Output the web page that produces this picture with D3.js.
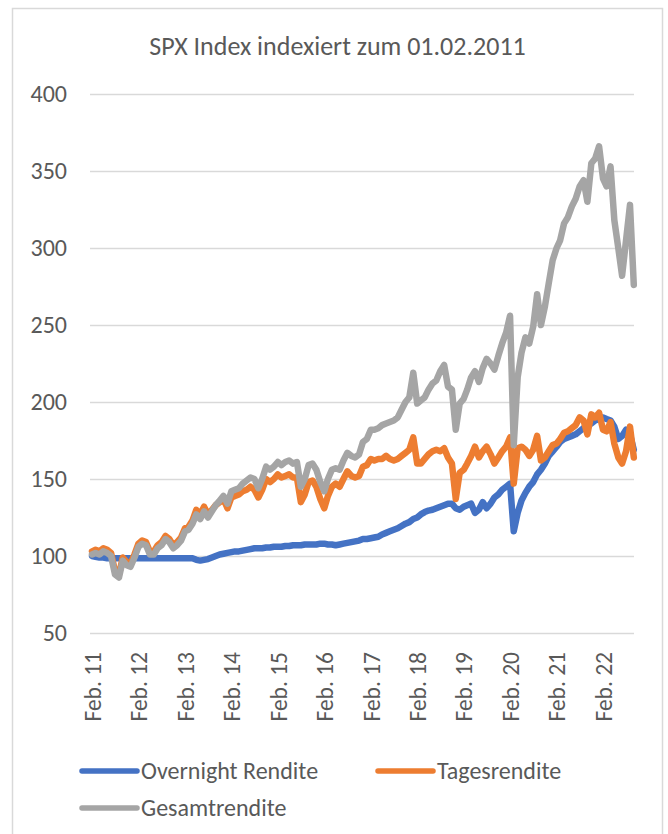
<!DOCTYPE html>
<html>
<head>
<meta charset="utf-8">
<script src="https://cdn.jsdelivr.net/npm/d3@7"></script>
<style>
  body { margin: 0; background: #fff; }
  svg { display: block; font-family: Carlito, Calibri, Lato, sans-serif; }
</style>
</head>
<body>
<svg id="chart" width="668" height="834"></svg>
<script>
var TITLE = "SPX Index indexiert zum 01.02.2011";

// monthly points, Feb 2011 .. Oct 2022
var months = d3.timeMonth.range(new Date(2011, 1, 1), new Date(2022, 10, 1));

var yTicks = [50, 100, 150, 200, 250, 300, 350, 400];
var xTickYears = [2011, 2012, 2013, 2014, 2015, 2016, 2017, 2018, 2019, 2020, 2021, 2022];

var overnight = [
  100, 99.5, 99, 99, 98.5, 98.5, 98.5, 98.5, 98.5, 98.5,
  98.5, 98.5, 98.5, 98.5, 98.5, 98.5, 98.5, 98.5, 98.5, 98.5,
  98.5, 98.5, 98.5, 98.5, 98.5, 98.5, 98.5, 97.5, 97, 97.5,
  98, 99, 100, 101, 101.5, 102, 102.5, 103, 103, 103.5,
  104, 104.5, 105, 105, 105, 105.5, 105.5, 106, 106, 106,
  106.5, 106.5, 107, 107, 107, 107.5, 107.5, 107.5, 107.5, 108,
  108, 107.5, 107.5, 107, 107.5, 108, 108.5, 109, 109.5, 110,
  111, 111, 111.5, 112, 112.5, 114, 115, 116, 117, 118,
  119.5, 121, 122, 124, 125, 127, 128.5, 129.5, 130, 131,
  132, 133, 134, 134, 131, 130, 132, 133, 134, 128,
  130, 135, 131, 134, 138, 140, 143, 145, 147, 116,
  128, 136, 141, 145, 148, 153, 156, 160, 165, 168,
  171, 174, 176, 177, 178, 179, 181, 183, 185, 186,
  188, 189, 190, 189, 188, 184, 176, 178, 182, 179, 169
];

var tages = [
  103, 104, 103, 105, 104, 102, 90, 88, 99, 96,
  95, 101, 108, 110, 109, 103, 103, 107, 109, 113,
  111, 107, 109, 112, 118, 119, 123, 130, 127, 132,
  127, 130, 133, 135, 137, 131, 138, 139, 140, 142,
  143, 145, 143, 138, 143, 150, 148, 150, 153, 151,
  152, 153, 151, 151, 135, 140, 148, 149, 145, 137,
  131, 139, 145, 147, 145, 150, 155, 152, 151, 152,
  158, 159, 163, 162, 163, 163, 165, 163, 162, 163,
  165, 167, 169, 177, 160, 160, 163, 166, 168, 169,
  168, 170, 164, 160, 137, 154, 156, 160, 165, 171,
  164, 168, 171, 166, 160, 164, 168, 171, 177, 147,
  170, 171, 169, 165, 169, 178, 162, 164, 168, 172,
  173, 176, 180, 181, 183, 185, 190, 188, 179, 192,
  190, 193, 182, 181, 187, 173, 164, 160, 168, 184, 164
];

var gesamt = [
  101, 102, 101, 103, 102, 100, 88, 86, 97, 94,
  93, 99, 106, 108, 107, 101, 101, 105, 107, 111,
  109, 105, 107, 110, 116, 117, 121, 127, 124, 129,
  125, 129, 133, 136, 139, 134, 142, 143, 144, 147,
  149, 151, 150, 144, 150, 158, 156, 158, 161, 159,
  161, 162, 160, 161, 145, 150, 159, 160, 156, 148,
  142, 150, 156, 157, 156, 162, 167, 165, 164, 166,
  174, 176, 182, 182, 183, 185, 186, 187, 188, 190,
  195, 200, 203, 219, 199, 201, 203, 208, 212, 214,
  220, 224, 210, 208, 182, 199, 202, 208, 216, 220,
  213, 222, 228, 225, 221, 230, 238, 245, 256, 172,
  216, 232, 242, 238, 249, 270, 250, 262, 277, 292,
  300, 305, 316, 320, 327, 332, 340, 344, 330, 355,
  358, 366, 345, 340, 353, 318, 300, 282, 305, 328, 276
];

var series = [
  {name: "Overnight Rendite", color: "#4472C4", values: overnight},
  {name: "Tagesrendite", color: "#ED7D31", values: tages},
  {name: "Gesamtrendite", color: "#A5A5A5", values: gesamt}
];

var svg = d3.select("#chart"),
    textColor = "#595959",
    gridColor = "#D9D9D9",
    fontFamily = "Carlito, Calibri, Lato, sans-serif",
    plot = {left: 90, right: 634, top: 94, bottom: 633};

// chart frame
svg.append("rect")
    .attr("x", 12.5).attr("y", 8.5)
    .attr("width", 650).attr("height", 840)
    .attr("fill", "#fff")
    .attr("stroke", gridColor)
    .attr("stroke-width", 1.5);

svg.append("text")
    .attr("x", 337.5).attr("y", 55)
    .attr("text-anchor", "middle")
    .attr("font-size", 26)
    .attr("fill", textColor)
    .text(TITLE);

var x = d3.scaleTime()
    .domain([months[0], months[months.length - 1]])
    .range([92, 633.8]);

var y = d3.scaleLinear()
    .domain([50, 400])
    .range([plot.bottom, plot.top]);

var yAxis = svg.append("g")
    .attr("transform", "translate(" + plot.left + ",0)")
    .call(d3.axisLeft(y)
      .tickValues(yTicks)
      .tickSize(-(plot.right - plot.left))
      .tickPadding(23));
yAxis.select(".domain").remove();
yAxis.selectAll("line").attr("stroke", gridColor).attr("stroke-width", 1.5);
yAxis.selectAll("text")
    .attr("fill", textColor)
    .attr("font-size", 24)
    .attr("font-family", fontFamily);

var xAxis = svg.append("g")
    .attr("transform", "translate(0," + plot.bottom + ")")
    .call(d3.axisBottom(x)
      .tickValues(xTickYears.map(function(yr) { return new Date(yr, 1, 1); }))
      .tickFormat(function(d) { return "Feb. " + d3.timeFormat("%y")(d); })
      .tickSize(0));
xAxis.select(".domain").remove();
xAxis.selectAll("text")
    .attr("fill", textColor)
    .attr("font-size", 23.5)
    .attr("font-family", fontFamily)
    .attr("transform", "rotate(-90)")
    .attr("text-anchor", "end")
    .attr("x", -19)
    .attr("y", 0)
    .attr("dy", "0.35em");

var line = d3.line()
    .x(function(d, i) { return x(months[i]); })
    .y(function(d) { return y(d); });

svg.append("g")
  .selectAll("path")
  .data(series)
  .enter()
  .append("path")
    .attr("d", function(s) { return line(s.values); })
    .attr("fill", "none")
    .attr("stroke", function(s) { return s.color; })
    .attr("stroke-width", 6.5)
    .attr("stroke-linejoin", "round")
    .attr("stroke-linecap", "round");

// legend
var legendPos = [[82, 771], [378, 771], [82, 808]];
var legend = svg.append("g");
series.forEach(function(s, i) {
  var p = legendPos[i];
  legend.append("line")
      .attr("x1", p[0]).attr("x2", p[0] + 55)
      .attr("y1", p[1]).attr("y2", p[1])
      .attr("stroke", s.color)
      .attr("stroke-width", 5.5)
      .attr("stroke-linecap", "round");
  legend.append("text")
      .attr("x", p[0] + 59)
      .attr("y", p[1])
      .attr("dy", "0.35em")
      .attr("font-size", 24)
      .attr("fill", textColor)
      .text(s.name);
});
</script>
</body>
</html>
